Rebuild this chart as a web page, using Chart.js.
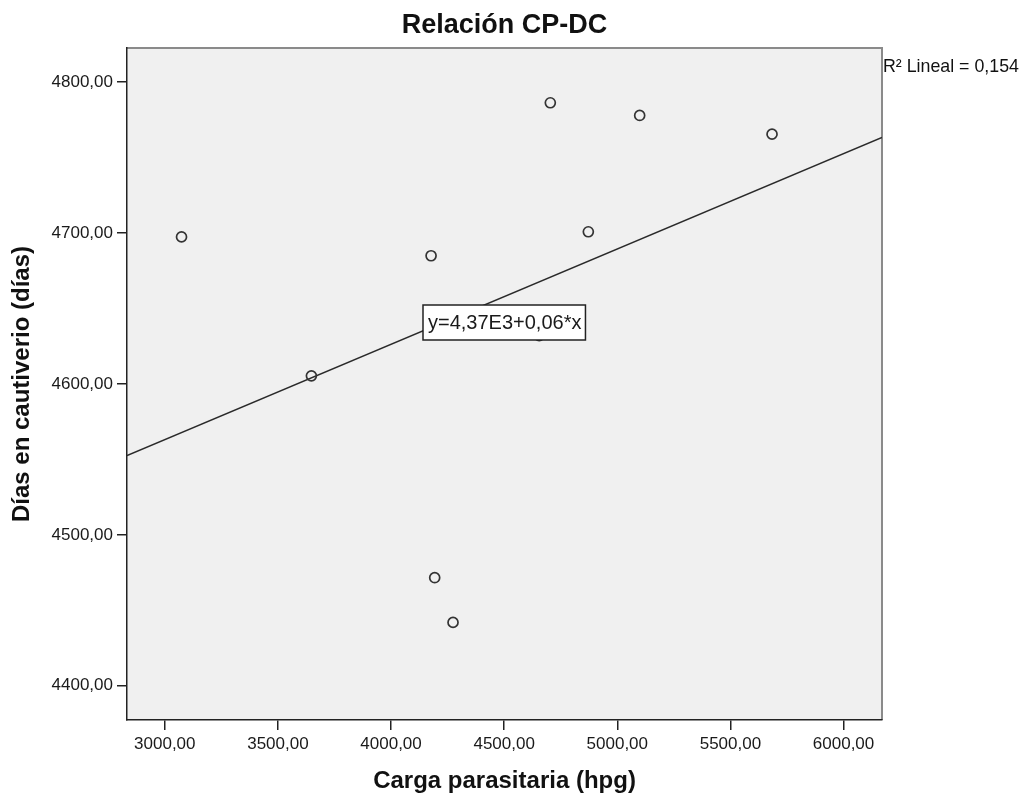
<!DOCTYPE html>
<html>
<head>
<meta charset="utf-8">
<script src="https://cdn.jsdelivr.net/npm/chart.js@4.4.1/dist/chart.umd.min.js"></script>
<style>
  html, body { margin: 0; padding: 0; background: #ffffff; }
  canvas { display: block; }
</style>
</head>
<body>
<canvas id="c" width="1022" height="796"></canvas>
<script>
// ---- data ----
const cargaParasitaria = [3074, 3648, 4177, 4193, 4274, 4655, 4704, 4872, 5099, 5684];
const diasCautiverio   = [4697.5, 4605.4, 4685, 4471.6, 4442, 4632, 4786.4, 4700.9, 4778, 4765.6];
const fitX = [2833, 6170];
const fitY = [4552.5, 4763.4];
const xTicks = [3000, 3500, 4000, 4500, 5000, 5500, 6000];
const yTicks = [4400, 4500, 4600, 4700, 4800];
const xRange = [2833, 6170];
const yRange = [4377.3, 4822.7];
const titleText = 'Relación CP-DC';
const xTitle = 'Carga parasitaria (hpg)';
const yTitle = 'Días en cautiverio (días)';
const r2Text = 'R² Lineal = 0,154';
const eqText = 'y=4,37E3+0,06*x';
const eqAnchor = [4501, 4640.5];

const FONT = "'Liberation Sans', Arial, sans-serif";
const fmt = v => Number(v).toFixed(2).replace('.', ',');

const plotDecor = {
  id: 'plotDecor',
  beforeDraw(chart) {
    const {ctx, chartArea: a} = chart;
    ctx.save();
    ctx.fillStyle = '#f0f0f0';
    ctx.fillRect(a.left, a.top, a.right - a.left, a.bottom - a.top);
    ctx.strokeStyle = '#8a8a8a';
    ctx.lineWidth = 2;
    ctx.beginPath();
    ctx.moveTo(a.left, a.top);
    ctx.lineTo(a.right, a.top);
    ctx.lineTo(a.right, a.bottom);
    ctx.stroke();
    ctx.restore();
  },
  afterDatasetsDraw(chart) {
    const {ctx, scales} = chart;
    const cx = scales.x.getPixelForValue(eqAnchor[0]);
    const cy = scales.y.getPixelForValue(eqAnchor[1]);
    ctx.save();
    ctx.font = '20px ' + FONT;
    const w = ctx.measureText(eqText).width + 9;
    const h = 35;
    const bx = Math.round(cx - w / 2), by = Math.round(cy - h / 2);
    ctx.fillStyle = '#ffffff';
    ctx.fillRect(bx, by, w, h);
    ctx.strokeStyle = '#222222';
    ctx.lineWidth = 1.5;
    ctx.strokeRect(bx, by, w, h);
    ctx.fillStyle = '#1a1a1a';
    ctx.textBaseline = 'middle';
    ctx.textAlign = 'left';
    ctx.fillText(eqText, bx + 5, by + h / 2 + 1);
    ctx.restore();
  },
  afterDraw(chart) {
    const {ctx, chartArea: a} = chart;
    ctx.save();
    ctx.font = '17.8px ' + FONT;
    ctx.fillStyle = '#111111';
    ctx.textBaseline = 'alphabetic';
    ctx.textAlign = 'left';
    ctx.fillText(r2Text, a.right + 1, 72);
    ctx.restore();
  }
};

new Chart(document.getElementById('c'), {
  type: 'scatter',
  data: {
    datasets: [
      {
        label: 'puntos',
        data: cargaParasitaria.map((x, i) => ({x: x, y: diasCautiverio[i]})),
        pointStyle: 'circle',
        pointRadius: 5,
        pointBorderWidth: 1.7,
        pointBorderColor: '#333333',
        pointBackgroundColor: 'rgba(0,0,0,0)',
        showLine: false
      },
      {
        label: 'ajuste',
        type: 'line',
        data: fitX.map((x, i) => ({x: x, y: fitY[i]})),
        borderColor: '#2a2a2a',
        borderWidth: 1.5,
        pointRadius: 0,
        fill: false
      }
    ]
  },
  options: {
    responsive: false,
    animation: false,
    devicePixelRatio: 1,
    layout: { padding: { left: 0, right: 140, top: 0, bottom: 0 } },
    plugins: {
      legend: { display: false },
      tooltip: { enabled: false },
      title: {
        display: true,
        text: titleText,
        fullSize: false,
        color: '#111111',
        font: { family: FONT, size: 27, weight: 'bold', lineHeight: 1.2 },
        padding: { top: 9.8, bottom: 5.8 }
      }
    },
    scales: {
      x: {
        type: 'linear',
        position: 'bottom',
        min: xRange[0],
        max: xRange[1],
        afterBuildTicks: s => { s.ticks = xTicks.map(v => ({value: v})); },
        afterFit: s => { s.height = 76; },
        ticks: {
          callback: v => fmt(v),
          color: '#1a1a1a',
          font: { family: FONT, size: 17 },
          padding: 4.5,
          maxRotation: 0,
          autoSkip: false
        },
        grid: {
          drawOnChartArea: false,
          drawTicks: true,
          tickLength: 10,
          color: '#222222',
          lineWidth: 1.5
        },
        border: { display: true, color: '#222222', width: 1.5 },
        title: {
          display: true,
          text: xTitle,
          color: '#111111',
          font: { family: FONT, size: 24, weight: 'bold', lineHeight: 1.2 },
          padding: { top: 0, bottom: 0 }
        }
      },
      y: {
        type: 'linear',
        position: 'left',
        min: yRange[0],
        max: yRange[1],
        afterBuildTicks: s => { s.ticks = yTicks.map(v => ({value: v})); },
        afterFit: s => { s.width = 127; },
        ticks: {
          callback: v => fmt(v),
          color: '#1a1a1a',
          font: { family: FONT, size: 17 },
          padding: 4,
          autoSkip: false
        },
        grid: {
          drawOnChartArea: false,
          drawTicks: true,
          tickLength: 10,
          color: '#222222',
          lineWidth: 1.5
        },
        border: { display: true, color: '#222222', width: 1.5 },
        title: {
          display: true,
          text: yTitle,
          color: '#111111',
          font: { family: FONT, size: 24, weight: 'bold', lineHeight: 1.2 },
          padding: { top: 8, bottom: 0 }
        }
      }
    }
  },
  plugins: [plotDecor]
});
</script>
</body>
</html>
